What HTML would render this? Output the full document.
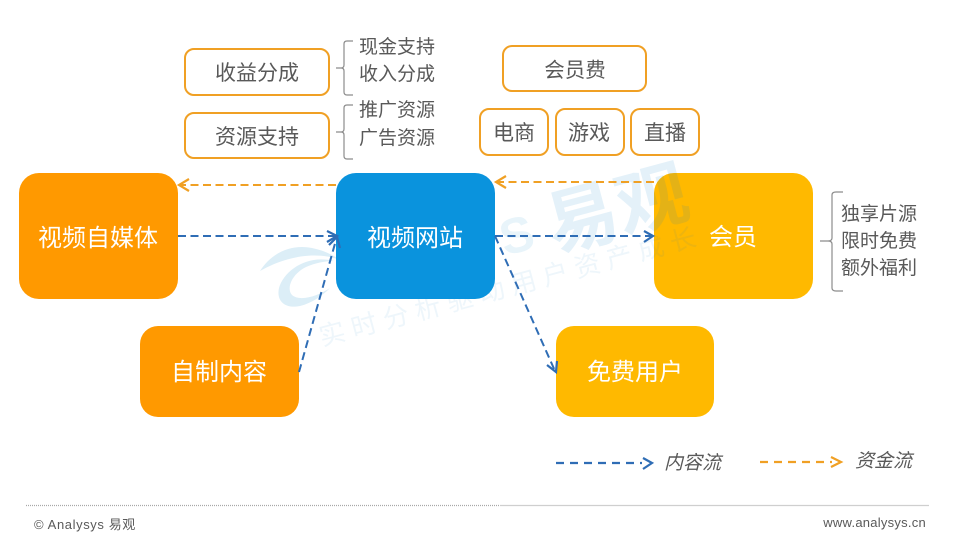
<!DOCTYPE html>
<html>
<head>
<meta charset="utf-8">
<style>
html,body{margin:0;padding:0;background:#fff;}
svg{display:block;}
text{font-family:"Liberation Sans","Noto Sans CJK SC",sans-serif;}
.w{fill:#fff;text-anchor:middle;font-size:24px;}
.g{fill:#595959;text-anchor:middle;font-size:21px;}
.s{fill:#595959;font-size:19px;}
.o{fill:#fff;stroke:#f0a024;stroke-width:2;}
.b{fill:none;stroke:#8c8c8c;stroke-width:1.2;}
.db{fill:none;stroke:#2f6db5;stroke-width:2;stroke-dasharray:8 4.5;}
.do{fill:none;stroke:#f0a024;stroke-width:2;stroke-dasharray:8 4.5;}
.lb{fill:none;stroke:#2f6db5;stroke-width:2.2;stroke-dasharray:8 6;}
.lo{fill:none;stroke:#f0a024;stroke-width:2.2;stroke-dasharray:8 6;}
.hb{fill:none;stroke:#2f6db5;stroke-width:2.2;}
.ho{fill:none;stroke:#f0a024;stroke-width:2.2;}
</style>
</head>
<body>
<svg width="960" height="540" viewBox="0 0 960 540" xmlns="http://www.w3.org/2000/svg">
<rect width="960" height="540" fill="#fff"/>

<!-- gold nodes sit under the watermark -->
<rect x="654" y="173" width="159" height="126" rx="20" fill="#ffb900"/>

<!-- watermark -->
<g>
<path d="M260 271 C272 252 292 244 312 248 C322 250 332 254 340 260 C320 252 290 254 260 271Z" fill="#dceef7"/>
<path d="M334 261 C308 254 284 270 279 288 C276 302 286 309 300 306 C312 303 322 296 330 288 C318 296 300 302 292 295 C286 288 292 274 306 267 C315 263 325 261 334 261Z" fill="#dceef7"/>
<text x="505" y="256" font-size="50" font-weight="bold" fill="#e8f4fa" transform="rotate(-15 505 256)" style="font-family:'Liberation Sans',sans-serif">S</text>
<text x="554" y="252" font-size="72" font-weight="bold" fill="#0a7fc4" fill-opacity="0.11" transform="rotate(-15 554 252)">易观</text>
<text x="322" y="346" font-size="26" fill="#0a7fc4" fill-opacity="0.07" letter-spacing="7" transform="rotate(-15 322 346)">实时分析驱动用户资产成长</text>
</g>

<!-- other nodes -->
<rect x="19" y="173" width="159" height="126" rx="20" fill="#ff9900"/>
<rect x="140" y="326" width="159" height="91" rx="18" fill="#ff9900"/>
<rect x="336" y="173" width="159" height="126" rx="20" fill="#0a93dd"/>
<rect x="556" y="326" width="158" height="91" rx="18" fill="#ffb900"/>
<text class="w" x="98" y="246">视频自媒体</text>
<text class="w" x="219" y="380">自制内容</text>
<text class="w" x="415" y="246">视频网站</text>
<text class="w" x="733" y="245">会员</text>
<text class="w" x="635" y="380">免费用户</text>

<!-- outline nodes -->
<rect class="o" x="185" y="49" width="144" height="46" rx="9"/>
<rect class="o" x="185" y="113" width="144" height="45" rx="9"/>
<rect class="o" x="503" y="46" width="143" height="45" rx="9"/>
<rect class="o" x="480" y="109" width="68" height="46" rx="9"/>
<rect class="o" x="556" y="109" width="68" height="46" rx="9"/>
<rect class="o" x="631" y="109" width="68" height="46" rx="9"/>
<text class="g" x="257" y="80">收益分成</text>
<text class="g" x="257" y="144">资源支持</text>
<text class="g" x="575" y="77" style="font-size:20.5px">会员费</text>
<text class="g" x="514" y="140">电商</text>
<text class="g" x="589" y="140">游戏</text>
<text class="g" x="665" y="140">直播</text>

<!-- braces -->
<path class="b" d="M353 41 H347 Q344 41 344 44 V65 Q344 68 341 68 H336 M341 68 Q344 68 344 71 V92 Q344 95 347 95 H353"/>
<path class="b" d="M353 105 H347 Q344 105 344 108 V129 Q344 132 341 132 H336 M341 132 Q344 132 344 135 V156 Q344 159 347 159 H353"/>
<path class="b" d="M843 192 H836 Q832 192 832 195 V238 Q832 241 828 241 H820 M828 241 Q832 241 832 244 V288 Q832 291 836 291 H843"/>
<text class="s" x="359" y="53">现金支持</text>
<text class="s" x="359" y="80">收入分成</text>
<text class="s" x="359" y="116">推广资源</text>
<text class="s" x="359" y="144">广告资源</text>
<text class="s" x="841" y="220">独享片源</text>
<text class="s" x="841" y="247">限时免费</text>
<text class="s" x="841" y="274">额外福利</text>

<!-- connectors -->
<line class="do" x1="336" y1="185" x2="180" y2="185"/>
<path class="ho" d="M189 179 L179 185 L189 191"/>
<line class="do" x1="654" y1="182" x2="497" y2="182"/>
<path class="ho" d="M506 176 L496 182 L506 188"/>
<line class="db" x1="178" y1="236" x2="335" y2="236"/>
<path class="hb" d="M327 231 L337 236 L327 242"/>
<line class="db" x1="299" y1="372" x2="336" y2="240"/>
<path class="hb" d="M329 245 L337 237 L340 248"/>
<line class="db" x1="495" y1="236" x2="652" y2="236"/>
<path class="hb" d="M644 231 L653 236 L644 242"/>
<line class="db" x1="495" y1="236" x2="555" y2="371"/>
<path class="hb" d="M547 365 L556 372 L557 361"/>

<!-- legend -->
<line class="lb" x1="556" y1="463" x2="642" y2="463"/>
<path class="hb" d="M643 458 L652 463 L643 469"/>
<text x="664" y="469" font-size="19" fill="#595959" font-style="italic">内容流</text>
<line class="lo" x1="760" y1="462" x2="832" y2="462"/>
<path class="ho" d="M831 457 L841 462 L831 467"/>
<text x="855" y="467" font-size="19" fill="#595959" font-style="italic">资金流</text>

<!-- footer -->
<line x1="26" y1="505.5" x2="500" y2="505.5" stroke="#a8a8a8" stroke-width="1.2" stroke-dasharray="1 1"/>
<line x1="500" y1="505.5" x2="929" y2="505.5" stroke="#cfcfcf" stroke-width="1.2"/>
<text x="34" y="529" font-size="13" fill="#595959" letter-spacing="0.6">© Analysys 易观</text>
<text x="926" y="527" font-size="13" fill="#595959" text-anchor="end" letter-spacing="0.25">www.analysys.cn</text>
</svg>
</body>
</html>
